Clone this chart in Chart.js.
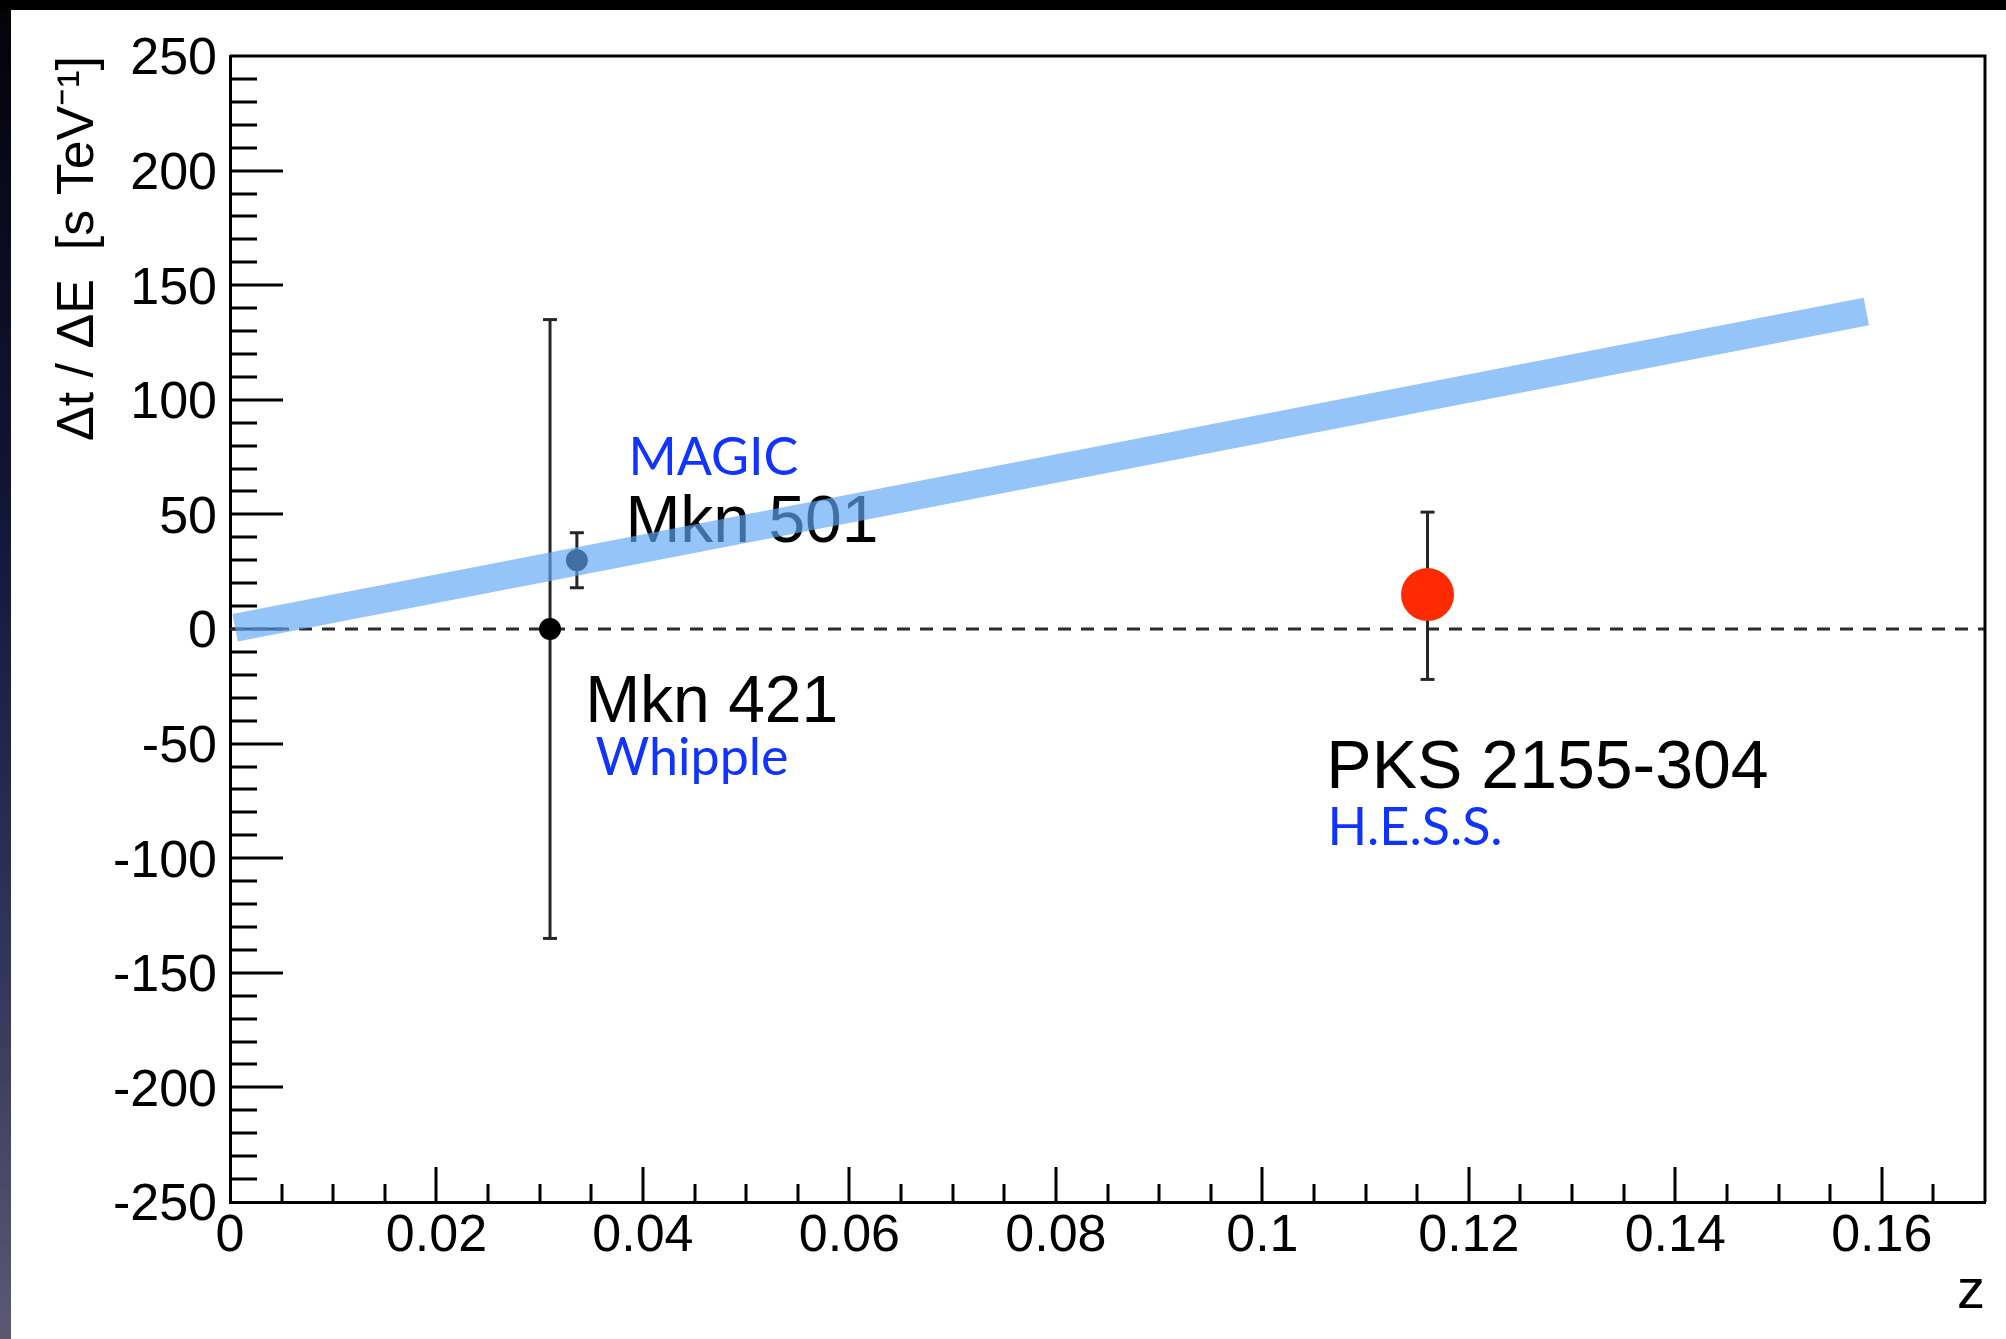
<!DOCTYPE html>
<html>
<head>
<meta charset="utf-8">
<title>Δt / ΔE vs z</title>
<script src="https://cdn.jsdelivr.net/npm/chart.js@4.4.1/dist/chart.umd.min.js"></script>
<style>
  html, body { margin: 0; padding: 0; }
  body { width: 2006px; height: 1339px; background: #000; position: relative; overflow: hidden; }
  #strip { position: absolute; left: 0; top: 10px; width: 11px; height: 1329px;
           background: linear-gradient(#03030a, #15173b 40%, #34355a 72%, #5b5972); }
  #sheet { position: absolute; left: 11px; top: 10px; right: 0; bottom: 0; background: #fff; }
  #delayChart { position: absolute; left: 0; top: 0; }
</style>
</head>
<body>
<div id="strip"></div>
<div id="sheet"></div>
<canvas id="delayChart" width="2006" height="1339"></canvas>
<script>
// sources and their measured delay per energy
const sources = ['Mkn 421', 'Mkn 501', 'PKS 2155-304'];
const experiments = ['Whipple', 'MAGIC', 'H.E.S.S.'];
const redshift = [0.031, 0.0336, 0.116];
const delay = [0, 30, 15];
const errUp = [135, 12, 36];
const errDown = [135, 12, 37];

// expected delay band
const bandZ = [0.0005, 0.1585];
const bandDelay = [0.5, 138.5];

// axes
const zTicks = [0, 0.02, 0.04, 0.06, 0.08, 0.1, 0.12, 0.14, 0.16];
const delayTicks = [-250, -200, -150, -100, -50, 0, 50, 100, 150, 200, 250];
const zMin = 0, zMax = 0.17;
const delayMin = -250, delayMax = 250;

const SANS = '"Liberation Sans", Arial, Helvetica, sans-serif';
const HUMANIST = 'Lato, "Open Sans", sans-serif';
const BLUE = '#1133ff';
const BAR = '#262626';

// where the source names go (data coordinates, left/baseline)
const notes = [
  { text: experiments[1], z: 0.0386, dt: 67, color: BLUE, font: '52px ' + HUMANIST },
  { text: sources[1], z: 0.0383, dt: 38, color: '#000', font: '66px ' + SANS },
  { text: sources[0], z: 0.0344, dt: -40.5, color: '#000', font: '66px ' + SANS },
  { text: experiments[0], z: 0.0354, dt: -63.5, color: BLUE, font: '52px ' + HUMANIST },
  { text: sources[2], z: 0.1062, dt: -69.3, color: '#000', font: '68px ' + SANS },
  { text: experiments[2], z: 0.1063, dt: -94.2, color: BLUE, font: '52px ' + HUMANIST }
];

// ROOT style ticks inside the frame, plus the text labels
const frameDecor = {
  id: 'frameDecor',
  beforeDatasetsDraw(chart) {
    const { ctx, chartArea: a, scales: { x, y } } = chart;
    ctx.save();
    ctx.strokeStyle = '#000';
    ctx.lineWidth = 3;
    ctx.beginPath();
    const ySteps = Math.round((delayMax - delayMin) / 10);
    for (let i = 1; i < ySteps; i++) {
      const v = delayMin + i * 10;
      const py = Math.round(y.getPixelForValue(v));
      const len = v % 50 === 0 ? 53 : 27;
      ctx.moveTo(a.left, py);
      ctx.lineTo(a.left + len, py);
    }
    const xSteps = Math.round((zMax - zMin) / 0.005);
    for (let i = 1; i < xSteps; i++) {
      const px = Math.round(x.getPixelForValue(zMin + i * 0.005));
      const len = i % 4 === 0 ? 35 : 18;
      ctx.moveTo(px, a.bottom);
      ctx.lineTo(px, a.bottom - len);
    }
    ctx.stroke();

    ctx.textAlign = 'left';
    ctx.textBaseline = 'alphabetic';
    notes.forEach(n => {
      ctx.font = n.font;
      ctx.fillStyle = n.color;
      ctx.fillText(n.text, x.getPixelForValue(n.z), y.getPixelForValue(n.dt));
    });
    ctx.restore();
  },
  afterDatasetsDraw(chart) {
    const { ctx, chartArea: a } = chart;
    ctx.save();
    ctx.strokeStyle = '#000';
    ctx.lineWidth = 3;
    ctx.beginPath();
    ctx.moveTo(a.left, a.top);
    ctx.lineTo(a.right, a.top);
    ctx.lineTo(a.right, a.bottom);
    ctx.stroke();
    ctx.restore();
  }
};

const errorBars = sources.map((s, i) => ({
  label: s + ' error',
  order: 2,
  showLine: true,
  data: [
    { x: redshift[i], y: delay[i] - errDown[i] },
    { x: redshift[i], y: delay[i] + errUp[i] }
  ],
  borderColor: BAR,
  borderWidth: 3,
  pointStyle: 'line',
  pointRadius: 7,
  pointBorderColor: BAR,
  pointBorderWidth: 3
}));

new Chart(document.getElementById('delayChart'), {
  type: 'scatter',
  data: {
    datasets: [
      {
        label: 'band',
        order: 0,
        showLine: true,
        data: bandZ.map((z, i) => ({ x: z, y: bandDelay[i] })),
        borderColor: 'rgba(95, 167, 245, 0.665)',
        borderWidth: 28,
        borderCapStyle: 'butt',
        pointRadius: 0
      },
      {
        label: 'sources',
        order: 1,
        data: sources.map((s, i) => ({ x: redshift[i], y: delay[i] })),
        pointRadius: [11, 11, 26.5],
        pointBackgroundColor: ['#000', '#000', '#ff2a00'],
        pointBorderWidth: 0
      },
      ...errorBars,
      {
        label: 'zero',
        order: 3,
        showLine: true,
        data: [{ x: zMin, y: 0 }, { x: zMax, y: 0 }],
        borderColor: '#2a2a2a',
        borderWidth: 3,
        borderDash: [13, 10],
        pointRadius: 0
      }
    ]
  },
  options: {
    responsive: false,
    animation: false,
    events: [],
    // big markers would otherwise pad the plot area
    layout: { autoPadding: false, padding: { top: 56, right: 21, bottom: 0, left: 0 } },
    plugins: { legend: { display: false }, tooltip: { enabled: false } },
    scales: {
      x: {
        type: 'linear',
        min: zMin,
        max: zMax,
        afterBuildTicks: s => { s.ticks = zTicks.map(v => ({ value: v })); },
        afterFit: s => { s.height = 137; },
        grid: { display: false, drawTicks: false },
        border: { display: true, color: '#000', width: 3 },
        ticks: {
          autoSkip: false,
          maxRotation: 0,
          padding: 3,
          color: '#000',
          font: { family: SANS, size: 52 },
          callback: v => String(+v.toFixed(3))
        },
        title: {
          display: true, text: 'z', align: 'end', color: '#000',
          font: { family: SANS, size: 56 },
          padding: { top: 0, bottom: 13 }
        }
      },
      y: {
        type: 'linear',
        min: delayMin,
        max: delayMax,
        afterBuildTicks: s => { s.ticks = delayTicks.map(v => ({ value: v })); },
        afterFit: s => { s.width = 230; },
        grid: { display: false, drawTicks: false },
        border: { display: true, color: '#000', width: 3 },
        ticks: {
          autoSkip: false,
          padding: 13,
          labelOffset: 4,
          color: '#000',
          font: { family: SANS, size: 52 },
          callback: v => String(v)
        },
        title: {
          display: true, text: 'Δt / ΔE  [s TeV⁻¹]', align: 'end', color: '#000',
          font: { family: SANS, size: 52 },
          padding: { top: 47, bottom: 0 }
        }
      }
    }
  },
  plugins: [frameDecor]
});
</script>
</body>
</html>
